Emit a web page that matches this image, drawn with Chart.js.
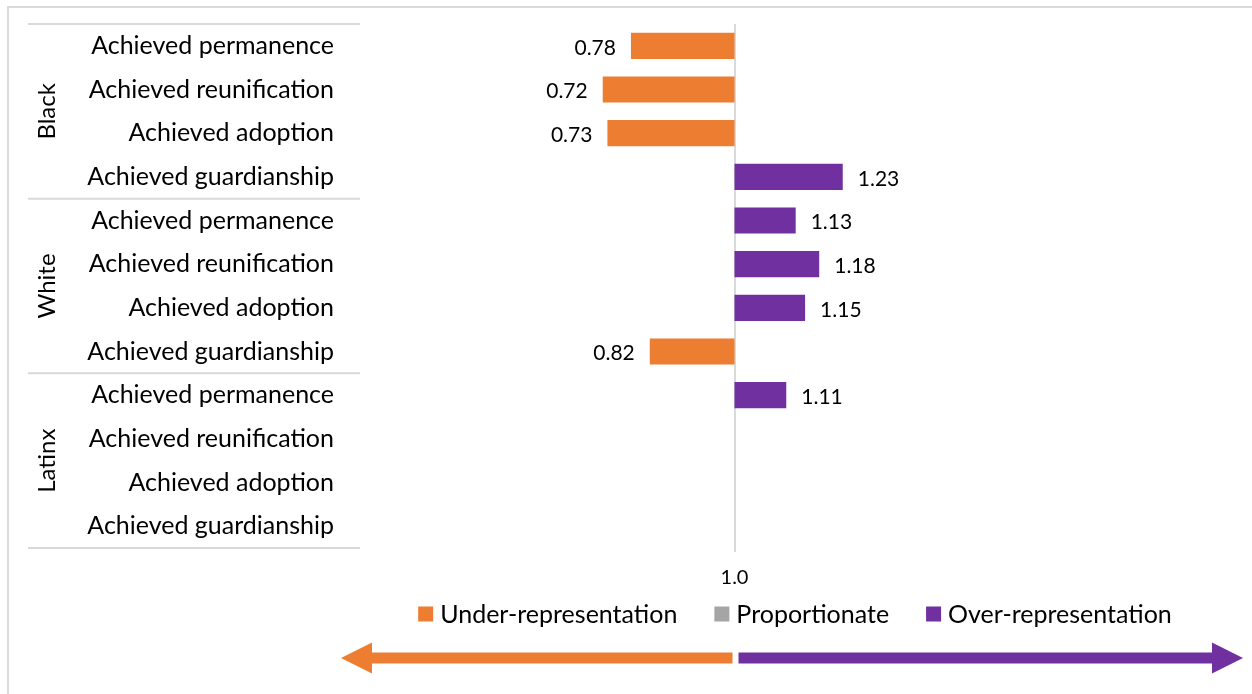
<!DOCTYPE html>
<html>
<head>
<meta charset="utf-8">
<script src="https://cdn.jsdelivr.net/npm/chart.js@4.4.1/dist/chart.umd.min.js"></script>
<style>
  html, body { margin: 0; padding: 0; background: #fff; }
  #wrap { width: 1252px; height: 694px; }
</style>
</head>
<body>
<div id="wrap"><canvas id="ratioChart" width="1252" height="694"></canvas></div>
<script>
// Disproportionality ratios per group and outcome (1.0 = proportionate)
var groups = ['Black', 'White', 'Latinx'];
var outcomes = ['Achieved permanence', 'Achieved reunification', 'Achieved adoption', 'Achieved guardianship'];
var blackRatios = [0.78, 0.72, 0.73, 1.23];
var whiteRatios = [1.13, 1.18, 1.15, 0.82];
var latinxRatios = [1.11, null, null, null];
var parityTicks = [1.0];
var legendLabels = ['Under-representation', 'Proportionate', 'Over-representation'];

var UNDER = '#ED7D31', EVEN = '#A5A5A5', OVER = '#7030A0';
var RULE = '#D9D9D9';
var FONT = 'Lato, "Open Sans", sans-serif';

// flatten groups x outcomes into the 12 rows of the category axis
var rowLabels = [];
var ratios = [];
[blackRatios, whiteRatios, latinxRatios].forEach(function (arr) {
    outcomes.forEach(function (name, i) {
        rowLabels.push(name);
        ratios.push(arr[i]);
    });
});

function ratioColor(v) {
    if (v == null) return EVEN;
    return v < 1 ? UNDER : OVER;
}

// Helper to draw one of the thick direction arrows under the legend
function drawArrow(ctx, fromX, tipX, y, color) {
    var dir = tipX < fromX ? -1 : 1;
    var headLen = 31, headHalf = 15.5, shaftHalf = 5.5;
    var baseX = tipX - dir * headLen;
    ctx.fillStyle = color;
    ctx.beginPath();
    ctx.moveTo(fromX, y - shaftHalf);
    ctx.lineTo(baseX, y - shaftHalf);
    ctx.lineTo(baseX, y - headHalf);
    ctx.lineTo(tipX, y);
    ctx.lineTo(baseX, y + headHalf);
    ctx.lineTo(baseX, y + shaftHalf);
    ctx.lineTo(fromX, y + shaftHalf);
    ctx.closePath();
    ctx.fill();
}

var decorations = {
    id: 'decorations',
    beforeDraw: function (chart) {
        var ctx = chart.ctx;
        ctx.save();
        ctx.fillStyle = '#fff';
        ctx.fillRect(0, 0, chart.width, chart.height);
        // outer frame
        ctx.strokeStyle = RULE;
        ctx.lineWidth = 2;
        ctx.strokeRect(8, 7, chart.width + 20, chart.height + 20);
        ctx.restore();
    },
    afterDatasetsDraw: function (chart) {
        var ctx = chart.ctx;
        var x = chart.scales.x, y = chart.scales.y;
        ctx.save();
        ctx.font = '21px ' + FONT;
        ctx.fillStyle = '#000';
        ctx.textBaseline = 'middle';
        ratios.forEach(function (v, i) {
            if (v == null) return;
            var px = x.getPixelForValue(v);
            var py = y.getPixelForValue(i) + 2;
            if (v < 1) {
                ctx.textAlign = 'right';
                ctx.fillText(v.toFixed(2), px - 15, py);
            } else {
                ctx.textAlign = 'left';
                ctx.fillText(v.toFixed(2), px + 15, py);
            }
        });
        ctx.restore();
    },
    afterDraw: function (chart) {
        var ctx = chart.ctx;
        var area = chart.chartArea;
        var x = chart.scales.x, y = chart.scales.y;
        var n = outcomes.length;
        ctx.save();

        // group separators and rotated group names
        ctx.strokeStyle = RULE;
        ctx.lineWidth = 2;
        var edges = [area.top];
        for (var g = 1; g < groups.length; g++) {
            edges.push((y.getPixelForValue(g * n - 1) + y.getPixelForValue(g * n)) / 2);
        }
        edges.push(area.bottom);
        edges.forEach(function (ey) {
            ctx.beginPath();
            ctx.moveTo(28, ey);
            ctx.lineTo(area.left + 2, ey);
            ctx.stroke();
        });
        ctx.fillStyle = '#000';
        ctx.font = '24px ' + FONT;
        ctx.textAlign = 'center';
        ctx.textBaseline = 'middle';
        groups.forEach(function (name, g) {
            var cy = (edges[g] + edges[g + 1]) / 2;
            ctx.save();
            ctx.translate(47, cy);
            ctx.rotate(-Math.PI / 2);
            ctx.fillText(name, 0, 0);
            ctx.restore();
        });

        // legend
        var swatches = [UNDER, EVEN, OVER];
        ctx.font = '25px ' + FONT;
        ctx.textAlign = 'left';
        var widths = legendLabels.map(function (t) { return ctx.measureText(t).width; });
        var total = 0;
        widths.forEach(function (w, i) { total += 22 + w + (i < widths.length - 1 ? 37 : 0); });
        var lx = 795 - total / 2, ly = 614;
        legendLabels.forEach(function (t, i) {
            ctx.fillStyle = swatches[i];
            ctx.fillRect(lx, ly - 7.5, 15, 15);
            ctx.fillStyle = '#000';
            ctx.fillText(t, lx + 22, ly + 1);
            lx += 22 + widths[i] + 37;
        });

        // direction arrows around the parity point
        var mid = x.getPixelForValue(1);
        drawArrow(ctx, mid - 2, 341, 658, UNDER);
        drawArrow(ctx, mid + 4, 1243, 658, OVER);
        ctx.restore();
    }
};

new Chart(document.getElementById('ratioChart'), {
    type: 'bar',
    data: {
        labels: rowLabels,
        datasets: [{
            label: 'Ratio',
            data: ratios.map(function (v) { return v == null ? null : [1, v]; }),
            backgroundColor: ratios.map(ratioColor),
            categoryPercentage: 1,
            barPercentage: 0.6
        }]
    },
    options: {
        indexAxis: 'y',
        responsive: false,
        animation: false,
        layout: { padding: { top: 24, right: 141, bottom: 0, left: 0 } },
        plugins: {
            legend: { display: false },
            tooltip: { enabled: false }
        },
        scales: {
            x: {
                min: 0.2,
                max: 1.8,
                afterBuildTicks: function (axis) {
                    axis.ticks = parityTicks.map(function (v) { return { value: v }; });
                },
                afterFit: function (scale) {
                    scale.height = 146;
                    scale.paddingLeft = 0;
                    scale.paddingRight = 0;
                },
                grid: { color: RULE, lineWidth: 2, tickLength: 4 },
                border: { display: false },
                ticks: {
                    color: '#000',
                    font: { family: FONT, size: 20 },
                    padding: 14,
                    callback: function (v) { return Number(v).toFixed(1); }
                }
            },
            y: {
                type: 'category',
                offset: true,
                afterFit: function (scale) {
                    scale.width = 358;
                    scale.paddingTop = 0;
                    scale.paddingBottom = 0;
                },
                grid: { display: false, drawTicks: false },
                border: { display: false },
                ticks: {
                    color: '#000',
                    autoSkip: false,
                    padding: 24,
                    font: { family: FONT, size: 25 }
                }
            }
        }
    },
    plugins: [decorations]
});
</script>
</body>
</html>
